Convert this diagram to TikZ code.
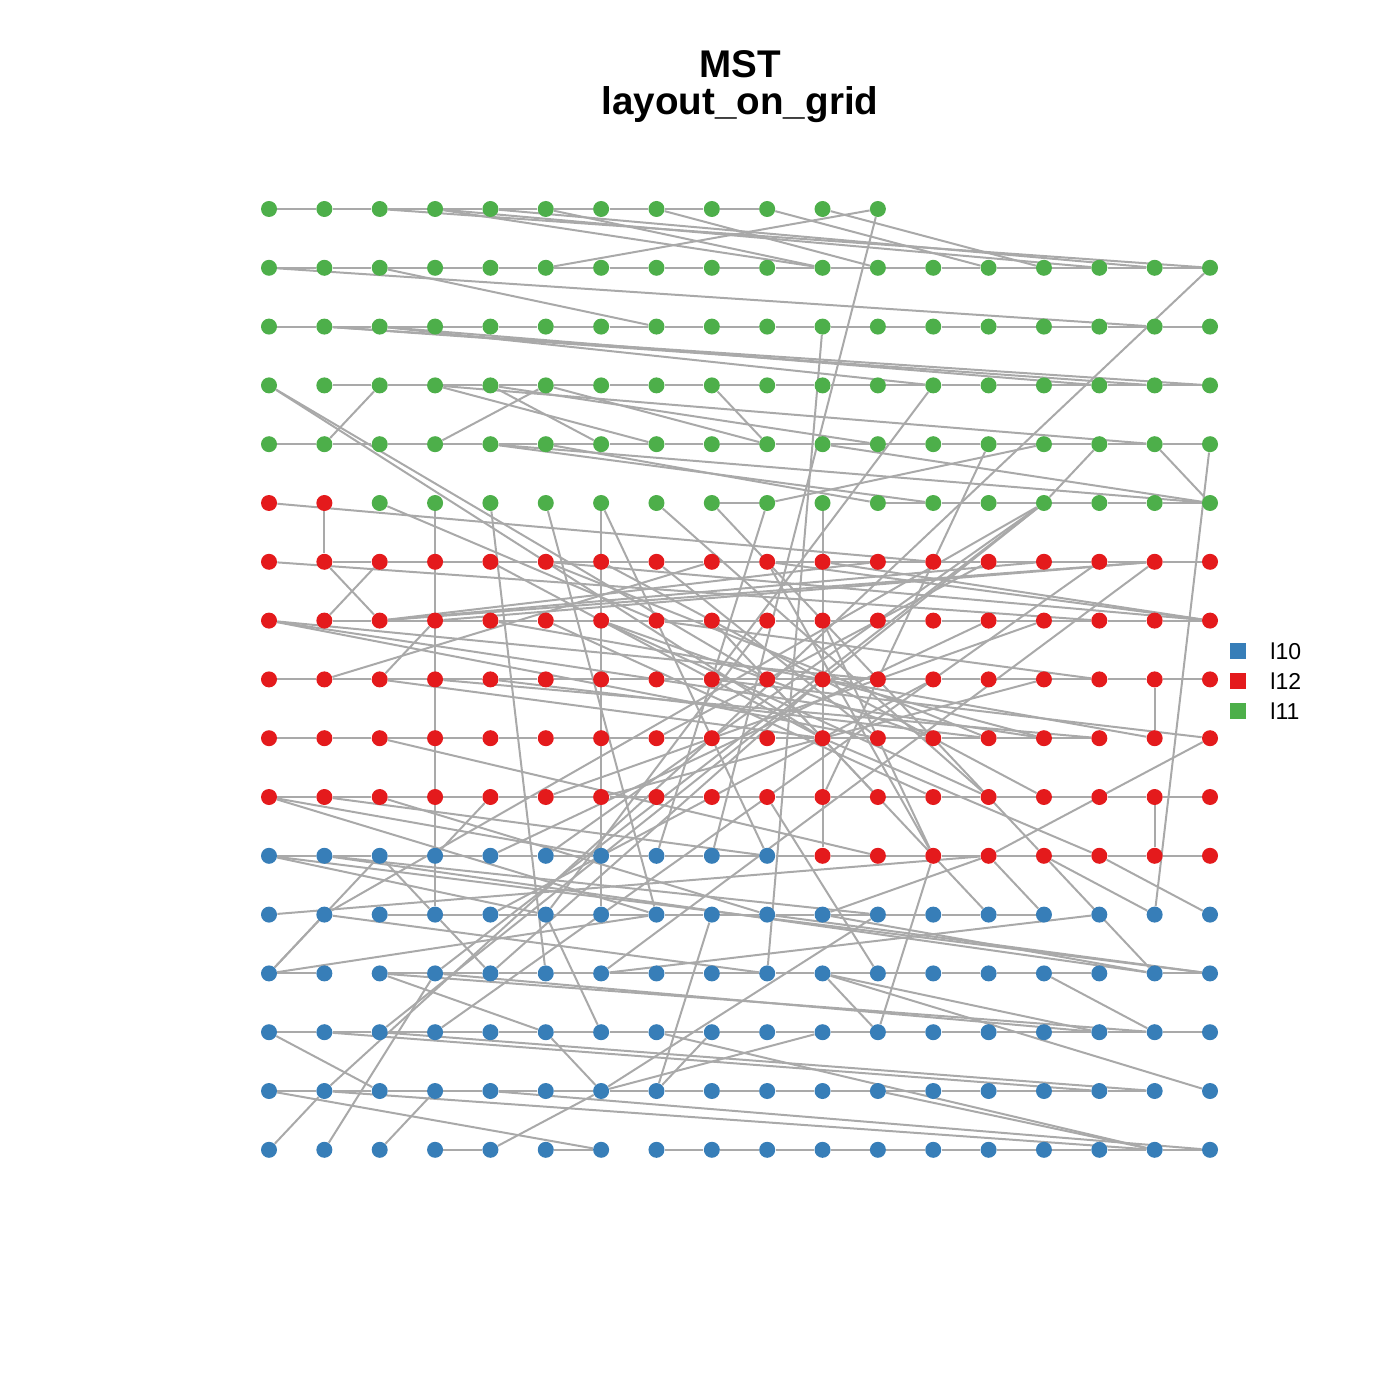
\documentclass[tikz,border=0pt]{standalone}
\usepackage{fontspec}
\setmainfont{Liberation Sans}
\usetikzlibrary{backgrounds}
\definecolor{gC}{HTML}{4DAF4A}
\definecolor{rC}{HTML}{E41A1C}
\definecolor{bC}{HTML}{377EB8}
\definecolor{edgegray}{HTML}{A9A9A9}
\begin{document}
\begin{tikzpicture}[x=0.5pt,y=-0.5pt,
  dot/.style={circle,inner sep=0pt,minimum size=8pt,draw=none},
  edge/.style={draw=edgegray,line width=1pt},
  legsq/.style={rectangle,inner sep=0pt,minimum size=8pt,draw=none},
  legtxt/.style={anchor=west,inner sep=0pt,font=\fontsize{11.5}{13}\selectfont},
  ttl/.style={font=\bfseries\fontsize{19.3}{23}\selectfont}]
\path[use as bounding box] (0,0) rectangle (1400,1400);
\node[ttl] (title1) at (740,64) {MST};
\node[ttl] (title2) at (740,105) {layout\_on\_grid};
% grid nodes
\foreach \r in {0,...,16}{
  \foreach \c in {0,...,17}{
    \def\mycol{gC}
    \ifnum\r>4 \def\mycol{rC}\fi
    \ifnum\r=5 \ifnum\c>1 \def\mycol{gC}\fi\fi
    \ifnum\r>10 \def\mycol{bC}\fi
    \ifnum\r=11 \ifnum\c>9 \def\mycol{rC}\fi\fi
    \def\myshow{1}
    \ifnum\r=0 \ifnum\c>11 \def\myshow{0}\fi\fi
    \ifnum\myshow=1
      \node[dot,fill=\mycol] (n\r-\c) at ({269+55.353*\c},{209+58.8*\r}) {};
    \fi
  }
}
\begin{scope}[on background layer]
% horizontal neighbours
\foreach \r/\f/\t in {0/0/8,1/0/16,2/0/16,3/1/16,4/0/16,5/8/8,5/11/16,6/1/16,7/1/16,8/0/16,9/0/14,10/0/16,11/0/16,12/2/13,13/0/0,13/2/14,13/16/16,14/0/16,15/0/15,16/3/3,16/5/5,16/7/16}{
  \foreach \c in {\f,...,\t}{
    \pgfmathtruncatemacro\cc{\c+1}
    \draw[edge] (n\r-\c) -- (n\r-\cc);
  }
}
% other connectors
\foreach \a/\b/\p/\q in {
5/1/6/1, 5/3/12/3, 5/6/12/6, 5/10/11/10, 8/16/9/16, 10/16/11/16,
0/2/1/17, 0/3/1/10, 0/3/1/15, 0/4/1/16, 0/5/1/10, 0/7/1/11, 0/9/1/13, 0/10/1/14, 0/11/1/5, 0/11/11/8,
1/0/2/16, 1/2/2/7, 1/17/9/8,
2/1/3/17, 2/1/3/16, 2/2/3/12, 2/2/3/15, 2/10/13/9,
3/0/8/9, 3/0/9/10, 3/2/4/1, 3/3/4/7, 3/3/4/16, 3/4/4/6, 3/4/4/11, 3/5/4/3, 3/5/4/9, 3/8/4/9, 3/12/8/8,
4/4/5/17, 4/4/5/12, 4/5/5/11, 4/10/5/17, 4/16/5/17, 4/15/5/14, 4/14/5/9, 4/17/12/16, 4/13/10/10,
5/0/6/12, 5/2/7/7, 5/4/13/5, 5/5/12/7, 5/6/11/9, 5/7/10/13, 5/8/11/14, 5/9/11/7, 5/14/12/1, 5/14/13/3, 5/14/14/2, 5/14/11/5,
6/0/7/15, 6/1/7/2, 6/2/7/1, 6/15/14/3, 6/16/13/6, 6/16/7/2, 6/16/7/3, 6/4/9/10,
7/0/9/14, 7/0/9/11, 7/0/8/11, 7/2/6/11, 7/2/6/14, 7/17/6/10, 7/17/6/5, 7/17/6/9, 7/5/10/12,
8/1/6/8, 8/2/7/3, 8/15/7/7, 8/2/9/10, 8/3/9/15, 8/4/9/13,
9/17/8/8, 9/14/8/10, 9/17/11/13, 9/2/11/11, 9/10/11/15,
10/0/12/7, 10/0/11/6, 10/1/11/9, 10/2/12/9, 10/4/11/3, 10/9/13/11, 10/13/7/6,
11/0/12/5, 11/0/13/17, 11/1/13/16, 11/1/12/11, 11/2/12/3, 11/12/14/11, 11/13/12/14, 11/14/12/16, 11/14/13/16, 11/15/12/17,
12/0/11/13, 12/1/13/0, 12/1/13/9, 12/3/13/4, 12/5/14/6, 12/8/15/7, 12/10/11/13, 12/10/13/16, 12/9/13/17, 12/11/15/6,
13/0/11/2, 13/0/12/7, 13/2/14/5, 13/2/14/16, 13/3/14/15, 13/6/12/15, 13/10/14/11, 13/10/15/17, 13/10/14/15, 13/14/14/16,
14/0/15/2, 14/1/15/15, 14/2/15/16, 14/5/15/6, 14/7/16/16, 14/8/15/7, 14/10/15/6,
15/0/16/6, 15/1/16/0, 15/1/16/16, 15/1/9/8, 15/3/16/2, 15/4/16/17, 15/6/16/4, 15/11/16/16, 16/1/13/3,
6/5/9/13, 6/6/10/14, 7/6/9/12, 6/9/11/12, 7/9/12/5, 8/10/13/4, 9/7/6/13, 11/4/7/13, 10/5/7/14,
12/4/8/12, 10/6/8/14, 7/8/10/11, 6/7/9/11, 7/10/11/12, 8/9/12/13, 7/4/9/16}{
  \draw[edge] (n\a-\b) -- (n\p-\q);
}
\end{scope}
% legend
\node[legsq,fill=bC] (legA) at (1238,651) {};
\node[legsq,fill=rC] (legB) at (1238,681) {};
\node[legsq,fill=gC] (legC) at (1238,711) {};
\node[legtxt] (legAt) at (1270,651) {l10};
\node[legtxt] (legBt) at (1270,681) {l12};
\node[legtxt] (legCt) at (1270,711) {l11};
\end{tikzpicture}
\end{document}
